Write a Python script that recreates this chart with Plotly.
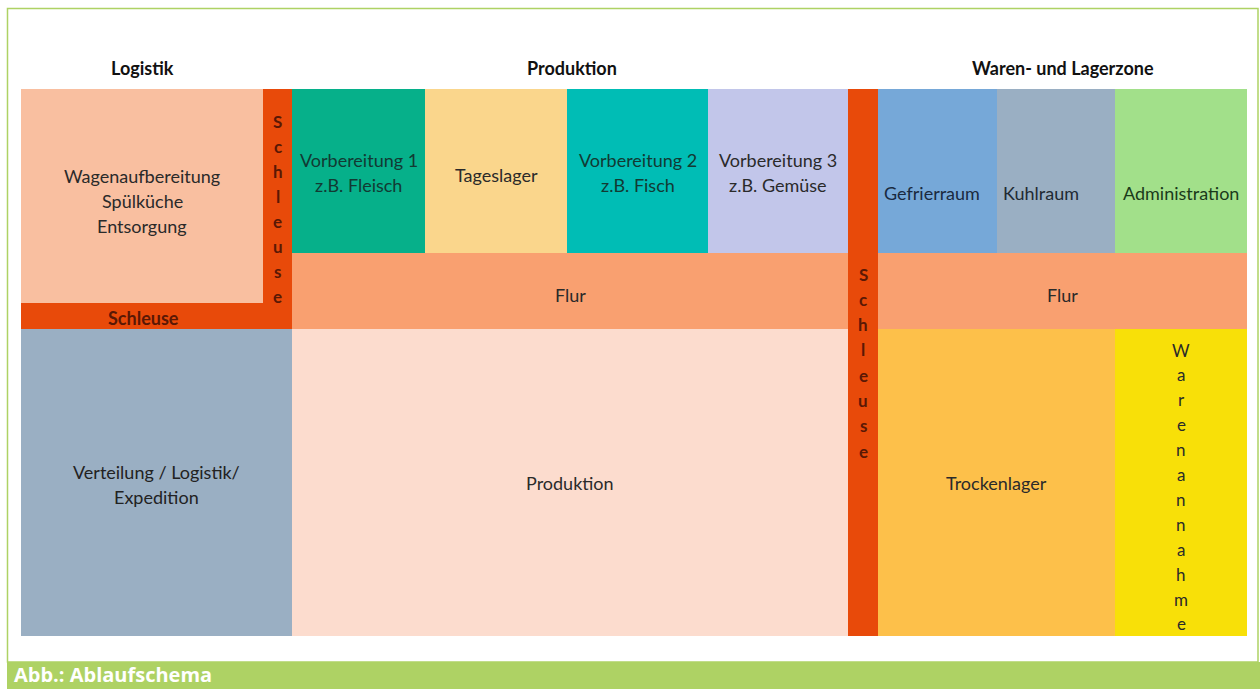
import plotly.graph_objects as go

# ---- data ----
zone_titles = ["Logistik", "Produktion", "Waren- und Lagerzone"]
zone_centers = [142, 572, 1063]

room_labels = [
    "Wagenaufbereitung\nSpülküche\nEntsorgung",
    "", "<b>Schleuse</b>",
    "Verteilung / Logistik/\nExpedition",
    "Vorbereitung 1\nz.B. Fleisch",
    "Tageslager",
    "Vorbereitung 2\nz.B. Fisch",
    "Vorbereitung 3\nz.B. Gemüse",
    "Flur",
    "Produktion",
    "",
    "Gefrierraum",
    "Kuhlraum",
    "Administration",
    "Flur",
    "Trockenlager",
    "",
]
room_x0 = [21, 263, 21, 21, 292, 425, 567, 708, 292, 292, 848, 878, 997, 1115, 878, 878, 1115]
room_x1 = [263, 292, 292, 292, 425, 567, 708, 848, 848, 848, 878, 997, 1115, 1247, 1247, 1115, 1247]
room_y0 = [89, 89, 303, 329, 89, 89, 89, 89, 253, 329, 89, 89, 89, 89, 253, 329, 329]
room_y1 = [303, 329, 329, 636, 253, 253, 253, 253, 329, 636, 636, 253, 253, 253, 329, 636, 636]
room_colors = ["#f9bfa0", "#e84a0a", "#e84a0a", "#9aafc3", "#06b08a", "#fad68c",
               "#00bdb5", "#c2c6ea", "#f9a070", "#fcdcce", "#e84a0a", "#76a8d8",
               "#9aafc3", "#a2e08a", "#f9a070", "#fdc04a", "#f8e008"]
# label anchor overrides (None = box centre)
label_cx = [None, None, 143, None, None, None, None, None, None, None, None,
            932, 1041, 1181, None, None, None]
label_cy = [201, None, 318, 484, 172, 175, 172, 172, 295, 483, None,
            193, 193, 193, 295, 483, None]
label_colors = ["#2a2a2a", "#5a1805", "#5a1805", "#222222", "#123a33", "#2a2a2a",
                "#123a33", "#2a2a2a", "#2a2a2a", "#2a2a2a", "#5a1805", "#1a2a40",
                "#1f2a33", "#1a3a1a", "#2a2a2a", "#2a2a2a", "#2a2a2a"]

vertical_words = ["Schleuse", "Schleuse", "Warenannahme"]
vertical_x = [277.5, 863, 1181]
vertical_top = [121, 274, 350]
vertical_step = [25, 25.3, 24.9]
vertical_colors = ["#5a1805", "#5a1805", "#2a2a2a"]

caption = "Abb.: Ablaufschema"

# ---- figure ----
FONT = "Lato"
fig = go.Figure()
shapes = []
annotations = []

for x0, x1, y0, y1, c in zip(room_x0, room_x1, room_y0, room_y1, room_colors):
    shapes.append(dict(type="rect", xref="x", yref="y", x0=x0, x1=x1, y0=y0, y1=y1,
                       fillcolor=c, line=dict(width=0), layer="below"))

for lab, x0, x1, y0, y1, lx, ly, col in zip(room_labels, room_x0, room_x1, room_y0, room_y1,
                                            label_cx, label_cy, label_colors):
    if not lab:
        continue
    lines = lab.split("\n")
    cx = (x0 + x1) / 2 if lx is None else lx
    cy = (y0 + y1) / 2 if ly is None else ly
    step = 25
    start = cy - step * (len(lines) - 1) / 2
    for i, ln in enumerate(lines):
        annotations.append(dict(x=cx, y=start + i * step, xref="x", yref="y", text=ln,
                                showarrow=False, font=dict(family=FONT, size=18, color=col)))

for w, vx, vt, vs, col in zip(vertical_words, vertical_x, vertical_top, vertical_step, vertical_colors):
    for i, ch in enumerate(w):
        letter = ch.lower() if i else ch
        if w == "Schleuse":
            letter = "<b>" + letter + "</b>"
        annotations.append(dict(x=vx, y=vt + i * vs, xref="x", yref="y", text=letter,
                                showarrow=False, font=dict(family=FONT, size=17, color=col)))

for t, cx in zip(zone_titles, zone_centers):
    annotations.append(dict(x=cx, y=68, xref="x", yref="y", text="<b>" + t + "</b>",
                            showarrow=False, font=dict(family=FONT, size=18, color="#111111")))

# frame
shapes.append(dict(type="rect", xref="x", yref="y", x0=7.5, x1=1258, y0=8.5, y1=662,
                   line=dict(color="#aed264", width=1.5), fillcolor="rgba(0,0,0,0)"))
# caption bar
shapes.append(dict(type="rect", xref="x", yref="y", x0=7, x1=1260, y0=662, y1=689,
                   fillcolor="#aed264", line=dict(width=0)))
annotations.append(dict(x=13, y=689, xref="x", yref="y", text="<b>" + caption + "</b>",
                        xanchor="left", yanchor="bottom", showarrow=False, borderpad=0,
                        font=dict(family="Open Sans", size=20, color="white")))

fig.update_layout(
    width=1260, height=689,
    margin=dict(l=0, r=0, t=0, b=0),
    paper_bgcolor="white", plot_bgcolor="white",
    xaxis=dict(range=[0, 1260], visible=False, fixedrange=True),
    yaxis=dict(range=[689, 0], visible=False, fixedrange=True),
    shapes=shapes, annotations=annotations, showlegend=False,
)
fig.write_html("out.html", config=dict(displayModeBar=False),
               post_script="document.body.style.margin='0';document.body.style.overflow='hidden';")
